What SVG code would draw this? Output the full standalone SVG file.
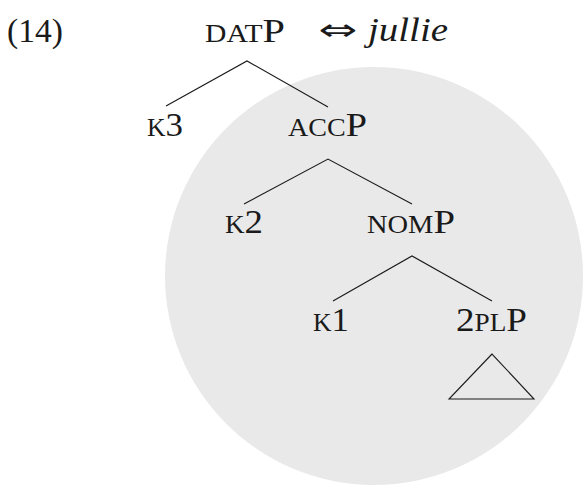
<svg xmlns="http://www.w3.org/2000/svg" width="584" height="486" viewBox="0 0 584 486">
  <style>
    text { font-family: "Liberation Serif", "Times New Roman", serif; font-size: 34px; fill: #1a1a1a; }
    .sc { font-size: 25px; }
    .arrow { font-family: "DejaVu Sans", sans-serif; font-size: 30px; }
    .edge { stroke: #1a1a1a; stroke-width: 1.1; fill: none; }
  </style>
  <rect width="584" height="486" fill="#ffffff"/>

  <!-- shaded constituent -->
  <circle id="highlight" cx="374" cy="276" r="209" fill="#e9e9e9"/>

  <!-- example number -->
  <text id="exnum" x="7" y="42" textLength="56" lengthAdjust="spacingAndGlyphs">(14)</text>

  <!-- branches -->
  <g id="connectors">
    <polyline class="edge" points="166,106 247,61 328,107"/>
    <polyline class="edge" points="244,204 328,159 412,204"/>
    <polyline class="edge" points="333,301 412,256 492,301"/>
    <polygon class="edge" points="492,354 449,399 534,399"/>
  </g>

  <!-- small-cap category labels: reduced capitals followed by full-size P -->
  <g id="datP" class="node">
    <text x="205" y="42" textLength="80" lengthAdjust="spacingAndGlyphs"><tspan class="sc">DAT</tspan>P</text>
  </g>
  <g id="spellout">
    <text class="arrow" x="318" y="40" textLength="39" lengthAdjust="spacingAndGlyphs">⇔</text>
    <text x="368" y="41" font-style="italic" textLength="80" lengthAdjust="spacingAndGlyphs">jullie</text>
  </g>
  <g id="k3" class="node">
    <text x="147" y="136" textLength="36" lengthAdjust="spacingAndGlyphs"><tspan class="sc">K</tspan>3</text>
  </g>
  <g id="accP" class="node">
    <text x="288" y="136" textLength="79" lengthAdjust="spacingAndGlyphs"><tspan class="sc">ACC</tspan>P</text>
  </g>
  <g id="k2" class="node">
    <text x="225" y="233" textLength="38" lengthAdjust="spacingAndGlyphs"><tspan class="sc">K</tspan>2</text>
  </g>
  <g id="nomP" class="node">
    <text x="367" y="233" textLength="88" lengthAdjust="spacingAndGlyphs"><tspan class="sc">NOM</tspan>P</text>
  </g>
  <g id="k1" class="node">
    <text x="313" y="331" textLength="36" lengthAdjust="spacingAndGlyphs"><tspan class="sc">K</tspan>1</text>
  </g>
  <g id="plP" class="node">
    <text x="456" y="331" textLength="71" lengthAdjust="spacingAndGlyphs">2<tspan class="sc">PL</tspan>P</text>
  </g>
</svg>
